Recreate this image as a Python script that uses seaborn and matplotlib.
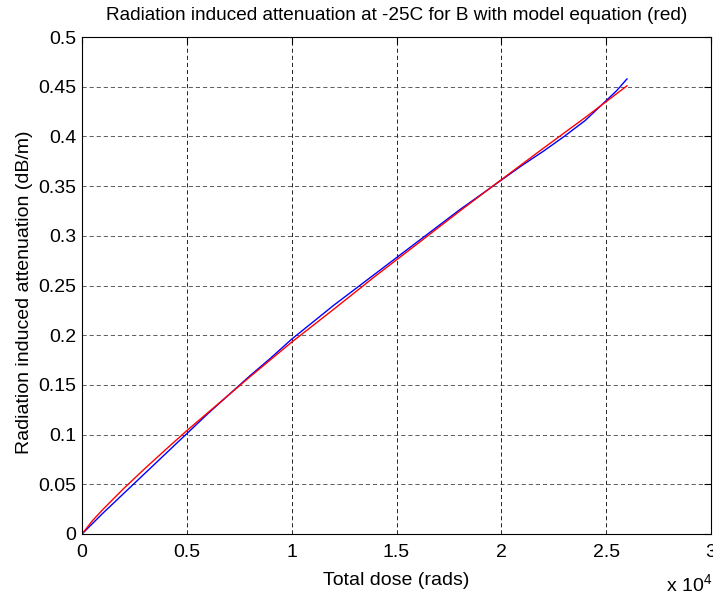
import numpy as np
import matplotlib
matplotlib.use("Agg")
import matplotlib.pyplot as plt
import seaborn as sns
import pandas as pd

# measured curve (blue), dose in rads, attenuation in dB/m
dose_meas = [0, 500, 1000, 1500, 2000, 2450, 3000, 3500, 4000, 4500, 5000, 6000, 7000,
             8000, 9000, 10000, 11000, 12000, 13000, 14000, 15000, 16000, 17000,
             18000, 19000, 20000, 21000, 22000, 23000, 24000, 24500, 25000, 25500, 26000]
att_meas = [0, 0.0105, 0.021, 0.031, 0.041, 0.050, 0.061, 0.071, 0.081, 0.091, 0.101,
            0.121, 0.140, 0.159, 0.177, 0.196, 0.213, 0.230, 0.246, 0.262, 0.278,
            0.294, 0.310, 0.326, 0.341, 0.356, 0.371, 0.385, 0.400, 0.416, 0.426,
            0.436, 0.446, 0.458]

# model equation (red)
dose_model = [0, 500, 1000, 2000, 3000, 4000, 5000, 6000, 8000, 10000, 12000, 14000,
              16000, 18000, 20000, 22000, 24000, 25000, 26000]
att_model = [0, 0.0134, 0.0248, 0.046, 0.0659, 0.0851, 0.104, 0.122, 0.158, 0.193,
             0.226, 0.2596, 0.292, 0.3246, 0.3565, 0.388, 0.419, 0.435, 0.451]

xticks = [0, 5000, 10000, 15000, 20000, 25000, 30000]
xticklabels = ["0", "0.5", "1", "1.5", "2", "2.5", "3"]
yticks = [0, 0.05, 0.1, 0.15, 0.2, 0.25, 0.3, 0.35, 0.4, 0.45, 0.5]
yticklabels = ["0", "0.05", "0.1", "0.15", "0.2", "0.25", "0.3", "0.35", "0.4", "0.45", "0.5"]

sns.set_theme(style="white")
plt.rcParams['font.family'] = ['Liberation Sans', 'DejaVu Sans']
plt.rcParams['mathtext.fontset'] = 'custom'
plt.rcParams['mathtext.rm'] = 'Liberation Sans'

fs = 14

fig = plt.figure(figsize=(7.13, 5.98), dpi=100)
ax = fig.add_axes([82/713, 64/598, 629/713, 497/598])

meas = pd.DataFrame({"dose": dose_meas, "att": att_meas})
model = pd.DataFrame({"dose": dose_model, "att": att_model})
sns.lineplot(data=meas, x="dose", y="att", ax=ax, color="blue", linewidth=1.0)
sns.lineplot(data=model, x="dose", y="att", ax=ax, color="red", linewidth=1.0)

ax.set_xlim(0, 30000)
ax.set_ylim(0, 0.5)
ax.set_xticks(xticks)
ax.set_xticklabels(xticklabels)
ax.set_yticks(yticks)
ax.set_yticklabels(yticklabels)
ax.tick_params(direction="in", length=5, width=0.8, color="black", labelsize=fs,
               labelcolor="black", top=True, right=True, pad=4)
ax.tick_params(axis="x", pad=7)

ax.grid(True, axis="x", color="black", linestyle=(0, (5, 3.5)), linewidth=0.6)
ax.grid(True, axis="y", color="#444444", linestyle=(0, (5, 3.5)), linewidth=0.6)
for s in ax.spines.values():
    s.set_color("black")
    s.set_linewidth(0.8)

ax.set_title("Radiation induced attenuation at -25C for B with model equation (red)",
             fontsize=13.7, pad=12, color="black")
ax.set_xlabel("Total dose (rads)", fontsize=fs, color="black", labelpad=8)
ax.set_ylabel("Radiation induced attenuation (dB/m)", fontsize=fs, color="black")
ax.yaxis.set_label_coords(-0.078, 0.487)
fig.text(0.999, 0.003, r"x 10$^{4}$", ha="right", va="bottom", fontsize=fs, color="black")

fig.savefig("out.png", dpi=100)
